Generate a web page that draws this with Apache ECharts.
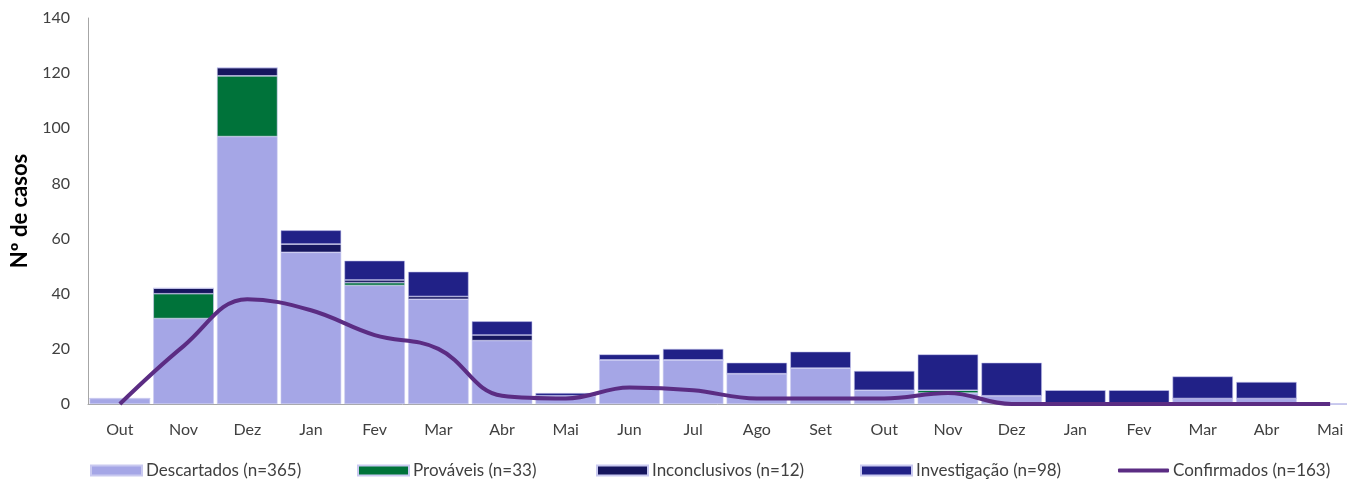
<!DOCTYPE html>
<html>
<head>
<meta charset="utf-8">
<script src="https://cdn.jsdelivr.net/npm/echarts@6/dist/echarts.min.js"></script>
<style>
	html, body { margin: 0; padding: 0; background: #fff; }
	#chart { width: 1347px; height: 481px; }
</style>
</head>
<body>
<div id="chart"></div>
<script>
const months = ['Out', 'Nov', 'Dez', 'Jan', 'Fev', 'Mar', 'Abr', 'Mai', 'Jun', 'Jul', 'Ago', 'Set', 'Out', 'Nov', 'Dez', 'Jan', 'Fev', 'Mar', 'Abr', 'Mai'];

const descartados   = [2, 31, 97, 55, 43, 38, 23, 3, 16, 16, 11, 13, 5, 4, 3, 0, 0, 2, 2, 0];
const provaveis     = [0, 9, 22, 0, 1, 0, 0, 0, 0, 0, 0, 0, 0, 1, 0, 0, 0, 0, 0, 0];
const inconclusivos = [0, 2, 3, 3, 1, 1, 2, 0, 0, 0, 0, 0, 0, 0, 0, 0, 0, 0, 0, 0];
const investigacao  = [0, 0, 0, 5, 7, 9, 5, 1, 2, 4, 4, 6, 7, 13, 12, 5, 5, 8, 6, 0];
const confirmados   = [0, 21, 38, 34, 25, 20, 3, 2, 6, 5, 2, 2, 2, 4, 0, 0, 0, 0, 0, 0];

const yTicks = { min: 0, max: 140, interval: 20 };

const names = ['Descartados (n=365)', 'Prováveis (n=33)', 'Inconclusivos (n=12)', 'Investigação (n=98)', 'Confirmados (n=163)'];
const colors = ['#a5a6e6', '#00733a', '#16165e', '#212187', '#5b2c83'];

const font = 'Lato, "Open Sans", sans-serif';
const textColor = '#404040';

// posição x de cada item da legenda
const legendPos = [90, 357, 596, 860, 1118];

const chart = echarts.init(document.getElementById('chart'));

const barSeries = (i, data) => ({
	name: names[i],
	type: 'bar',
	stack: 'total',
	data: data,
	barCategoryGap: '5%',
	itemStyle: {
		color: colors[i],
		borderColor: '#c9c9f0',
		borderWidth: 0.6,
	},
});

chart.setOption({
	animation: false,
	grid: {
		left: 88,
		top: 18,
		bottom: 77,
		width: 1274,
		outerBoundsMode: 'none',
	},
	xAxis: {
		type: 'category',
		data: months,
		axisLine: { lineStyle: { color: '#a6a6a6', width: 1 } },
		axisTick: { show: false },
		axisLabel: { color: textColor, fontFamily: font, fontSize: 16, margin: 18 },
	},
	yAxis: {
		type: 'value',
		min: yTicks.min,
		max: yTicks.max,
		interval: yTicks.interval,
		name: 'Nº de casos',
		nameLocation: 'middle',
		nameRotate: 90,
		nameGap: 56,
		nameTextStyle: { color: '#000', fontFamily: font, fontSize: 22, fontWeight: 'bold' },
		axisLine: { show: true, lineStyle: { color: '#a6a6a6', width: 1 } },
		axisTick: { show: false },
		splitLine: { show: false },
		axisLabel: { color: textColor, fontFamily: font, fontSize: 16, margin: 18 },
	},
	legend: names.map((n, i) => ({
		data: [n],
		left: legendPos[i],
		top: 462,
		itemWidth: 51,
		itemHeight: i === 4 ? 4 : 10,
		itemGap: 0,
		icon: i === 4 ? 'roundRect' : 'rect',
		textStyle: { color: textColor, fontFamily: font, fontSize: 17, padding: [0, 0, 0, -1] },
		padding: 0,
	})),
	series: [
		barSeries(0, descartados),
		barSeries(1, provaveis),
		barSeries(2, inconclusivos),
		barSeries(3, investigacao),
		{
			name: names[4],
			type: 'line',
			data: confirmados,
			smooth: 0.4,
			showSymbol: false,
			symbol: 'none',
			z: 5,
			itemStyle: { color: colors[4] },
			lineStyle: { color: colors[4], width: 4 },
		},
	],
});
</script>
</body>
</html>
